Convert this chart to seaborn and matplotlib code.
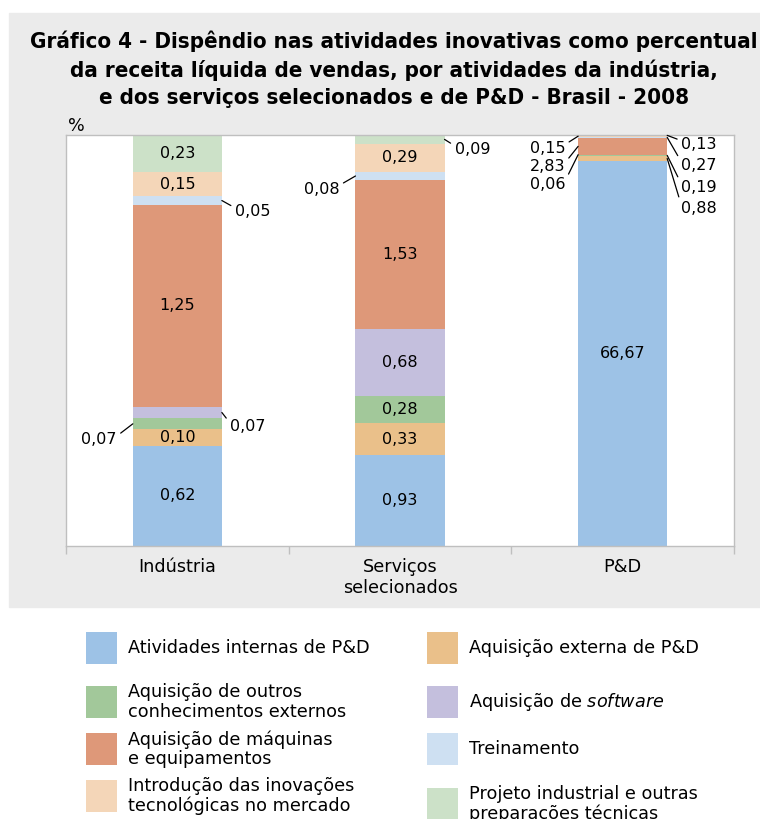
import matplotlib
matplotlib.use("Agg")
import matplotlib.pyplot as plt
from matplotlib.patches import Rectangle
import pandas as pd
import seaborn as sns

# categories (x axis)
CATEGORIES = ["Indústria", "Serviços\nselecionados", "P&D"]

# stacking order, bottom -> top
LAYERS = [
    "Atividades internas de P&D",
    "Aquisição externa de P&D",
    "Aquisição de outros\nconhecimentos externos",
    "Aquisição de $\\mathit{software}$",
    "Aquisição de máquinas\ne equipamentos",
    "Treinamento",
    "Introdução das inovações\ntecnológicas no mercado",
    "Projeto industrial e outras\npreparações técnicas",
]
COLORS = ["#9DC2E6", "#EAC08A", "#A2C89A", "#C4BFDD",
          "#DE9879", "#CEE0F2", "#F4D6B8", "#CCE1C8"]

# % of net sales revenue, same order as LAYERS
INDUSTRIA = [0.62, 0.10, 0.07, 0.07, 1.25, 0.05, 0.15, 0.23]
SERVICOS = [0.93, 0.33, 0.28, 0.68, 1.53, 0.08, 0.29, 0.09]
PED = [66.67, 0.88, 0.19, 0.06, 2.83, 0.27, 0.15, 0.13]

# labels placed outside the bar: (category, layer) -> (dx px, dy px)
OUTSIDE = {
    (0, 2): (-16, -16), (0, 3): (8, -14), (0, 5): (13, -11),
    (1, 5): (-16, -13), (1, 7): (10, -10),
    (2, 6): (-13, -12), (2, 4): (-13, -20), (2, 3): (-13, -30),
    (2, 7): (14, -9), (2, 5): (14, -28), (2, 2): (14, -32), (2, 1): (14, -50),
}

# legend grid: layer index -> (column x px, row centre y px)
LEGEND_POS = {0: (86, 648), 2: (86, 702), 4: (86, 749), 6: (86, 796),
              1: (427, 648), 3: (427, 702), 5: (427, 749), 7: (427, 804)}

W, H = 760, 819
NUM_FONT = 11.5
TXT_FONT = 12.7
BAR_W = 0.4

plt.rcParams["mathtext.fontset"] = "dejavusans"

rows = []
for ci, vals in enumerate([INDUSTRIA, SERVICOS, PED]):
    total = sum(vals)
    cum = 0.0
    for li, v in enumerate(vals):
        pct = v / total * 100
        rows.append(dict(cat=CATEGORIES[ci], ci=ci, li=li, value=v,
                         bottom=cum, top=cum + pct))
        cum += pct
df = pd.DataFrame(rows)

fig = plt.figure(figsize=(W / 100, H / 100), dpi=100)
fig.patches.append(Rectangle((9 / W, 1 - 607 / H), (W - 9) / W, (607 - 13) / H,
                             transform=fig.transFigure, color="#EBEBEB", zorder=-5))

ax = fig.add_axes([66 / W, 1 - 546 / H, (734 - 66) / W, (546 - 135) / H])
ax.set_zorder(2)
ax.set_facecolor("white")

# stacked bars: draw cumulative tops from the top layer down
for li in reversed(range(len(LAYERS))):
    sub = df[df.li == li]
    sns.barplot(data=sub, x="cat", y="top", order=CATEGORIES, color=COLORS[li],
                saturation=1, width=BAR_W, linewidth=0, ax=ax)

for _, r in df.iterrows():
    txt = f"{r.value:.2f}".replace(".", ",")
    yc = (r.bottom + r.top) / 2
    key = (r.ci, r.li)
    if key in OUTSIDE:
        dx, dy = OUTSIDE[key]
        left = dx < 0
        xa = r.ci - BAR_W / 2 if left else r.ci + BAR_W / 2
        ax.annotate(txt, xy=(xa, yc), xytext=(dx, dy), textcoords="offset pixels",
                    ha="right" if left else "left", va="center", fontsize=NUM_FONT,
                    arrowprops=dict(arrowstyle="-", lw=0.9, color="black",
                                    shrinkA=1, shrinkB=0,
                                    relpos=(1, 0.75) if left else (0, 0.75)))
    else:
        ax.text(r.ci, yc, txt, ha="center", va="center", fontsize=NUM_FONT)

ax.set_xlim(-0.5, 2.5)
ax.set_ylim(0, 100)
ax.set_xlabel("")
ax.set_ylabel("")
ax.set_yticks([])
ax.set_xticks(range(3))
ax.set_xticklabels(CATEGORIES, fontsize=TXT_FONT, linespacing=1.2)
ax.set_xticks([-0.5, 0.5, 1.5, 2.5], minor=True)
ax.tick_params(axis="x", which="major", length=0, pad=9)
ax.tick_params(axis="x", which="minor", length=6, width=1, color="#BFBFBF")
for s in ax.spines.values():
    s.set_color("#BFBFBF")
    s.set_linewidth(1)

fig.text(68 / W, 1 - 131 / H, "%", fontsize=TXT_FONT, va="baseline")

title = ("Gráfico 4 - Dispêndio nas atividades inovativas como percentual\n"
         "da receita líquida de vendas, por atividades da indústria,\n"
         "e dos serviços selecionados e de P&D - Brasil - 2008")
t = fig.text(394 / W, 1 - 30 / H, title, ha="center", va="top", fontsize=17,
             fontweight="bold", fontstretch="condensed", linespacing=1.45)
# shrink the title so the first line spans the same width as in the source
fig.canvas.draw()
first = fig.text(0, 0, title.split("\n")[0], fontsize=17, fontweight="bold",
                 fontstretch="condensed")
wpx = first.get_window_extent(fig.canvas.get_renderer()).width
first.remove()
t.set_fontsize(17 * 725 / wpx)

# legend
for li, (x0, yc) in LEGEND_POS.items():
    fig.patches.append(Rectangle((x0 / W, 1 - (yc + 16) / H), 31 / W, 32 / H,
                                 transform=fig.transFigure, color=COLORS[li], lw=0))
    fig.text((x0 + 42) / W, 1 - yc / H, LAYERS[li], fontsize=TXT_FONT,
             ha="left", va="center", linespacing=1.08)

fig.savefig("out.png", dpi=100)
